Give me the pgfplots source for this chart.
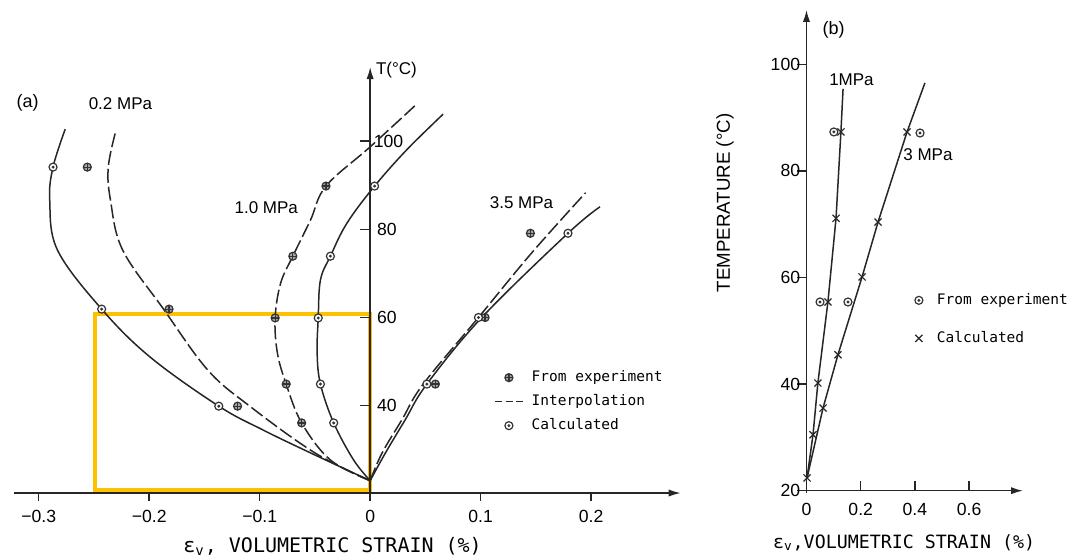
\documentclass[border=0pt]{standalone}
\usepackage{pgfplots}
\pgfplotsset{compat=1.18}
\usepackage{fontspec}
\setmainfont{Liberation Sans}
\newfontfamily\monofont{DejaVu Sans Mono}
\usetikzlibrary{arrows.meta}
\definecolor{hl}{RGB}{255,192,0}
\pgfdeclareplotmark{odot}{%
  \pgfpathcircle{\pgfpointorigin}{\pgfplotmarksize}\pgfusepathqfillstroke
  \pgfpathcircle{\pgfpointorigin}{0.2\pgfplotmarksize}\pgfusepathqstroke}
\pgfdeclareplotmark{expt}{%
  \pgfpathcircle{\pgfpointorigin}{\pgfplotmarksize}\pgfusepathqfillstroke
  \pgfpathmoveto{\pgfqpoint{-\pgfplotmarksize}{0pt}}\pgfpathlineto{\pgfqpoint{\pgfplotmarksize}{0pt}}%
  \pgfpathmoveto{\pgfqpoint{0pt}{-\pgfplotmarksize}}\pgfpathlineto{\pgfqpoint{0pt}{\pgfplotmarksize}}\pgfusepathqstroke}
\pgfplotsset{
  calc/.style={only marks, mark=odot, mark size=2pt, mark options={line width=0.6pt, fill=white, draw=black!80}},
  expt/.style={only marks, mark=expt, mark size=2pt, mark options={line width=0.6pt, fill=black!35, draw=black!80}},
  crv/.style={black!85, line width=0.75pt, smooth, tension=0.6, mark=none},
  dsh/.style={crv, dash pattern=on 7pt off 2pt},
  lin/.style={black!85, line width=0.75pt, sharp plot, mark=none},
  legend image code/.code={\draw[mark repeat=2,mark phase=2,#1] plot coordinates {(0pt,0pt) (7pt,0pt) (14pt,0pt)};},
}
\newcommand\ticka{\fontsize{8.8}{10}\selectfont}
\newcommand\labf{\fontsize{8.5}{10}\selectfont}
\begin{document}
\begin{tikzpicture}
\useasboundingbox (0,0) rectangle (536.5pt,279.5pt);
% ---------------- panel (a) ----------------
\begin{axis}[
  at={(0pt,32.55pt)}, anchor=south west,
  scale only axis, width=342.55pt, height=216.1pt,
  xmin=-0.335, xmax=0.285, ymin=20, ymax=118,
  hide axis, clip=false,
  legend style={at={(axis cs:0.1122,48.4)}, anchor=north west, draw=none, fill=none,
    inner sep=0pt, outer sep=0pt, font=\monofont\fontsize{7.25}{8}\selectfont,
    row sep=3pt, nodes={inner sep=1pt, text height=5.5pt, text depth=1.5pt},
    /tikz/every odd column/.append style={column sep=3pt}},
  legend cell align=left,
]
% highlight box
\draw[hl, line width=2pt] (axis cs:-0.249,20.9) rectangle (axis cs:0,60.8);
% axes
\draw[black!85, line width=0.7pt, -{Latex[length=6pt,width=3.6pt]}] (axis cs:-0.322,20.2) -- (axis cs:0.281,20.2);
\draw[black!85, line width=0.7pt, -{Latex[length=6pt,width=3.6pt]}] (axis cs:0,20.2) -- (axis cs:0,116.8);
\draw[black!85, line width=0.7pt] (axis cs:-0.3,20.2) -- ++(0pt,-4pt);
\draw[black!85, line width=0.7pt] (axis cs:-0.2,20.2) -- ++(0pt,-4pt);
\draw[black!85, line width=0.7pt] (axis cs:-0.1,20.2) -- ++(0pt,-4pt);
\draw[black!85, line width=0.7pt] (axis cs:0,20.2) -- ++(0pt,-4pt);
\draw[black!85, line width=0.7pt] (axis cs:0.1,20.2) -- ++(0pt,-4pt);
\draw[black!85, line width=0.7pt] (axis cs:0.2,20.2) -- ++(0pt,-4pt);
\draw[black!85, line width=0.7pt] (axis cs:0,40) -- ++(-5pt,0pt);
\draw[black!85, line width=0.7pt] (axis cs:0,60) -- ++(-5pt,0pt);
\draw[black!85, line width=0.7pt] (axis cs:0,80) -- ++(-5pt,0pt);
\draw[black!85, line width=0.7pt] (axis cs:0,100) -- ++(-5pt,0pt);
\node[font=\ticka] at (axis cs:-0.3,14.9) {−0.3};
\node[font=\ticka] at (axis cs:-0.2,14.9) {−0.2};
\node[font=\ticka] at (axis cs:-0.1,14.9) {−0.1};
\node[font=\ticka] at (axis cs:0,14.9) {0};
\node[font=\ticka] at (axis cs:0.1,14.9) {0.1};
\node[font=\ticka] at (axis cs:0.2,14.9) {0.2};
\node[font=\ticka, anchor=west, inner sep=0pt] at (axis cs:0.006,40) {40};
\node[font=\ticka, anchor=west, inner sep=0pt] at (axis cs:0.006,60) {60};
\node[font=\ticka, anchor=west, inner sep=0pt] at (axis cs:0.006,80) {80};
\node[font=\ticka, anchor=west, inner sep=0pt] at (axis cs:0.003,100) {100};
\node[font=\labf, anchor=west, inner sep=0pt] at (axis cs:0.005,116.1) {T(°C)};
\node[font=\monofont\fontsize{10}{12}\selectfont] at (axis cs:-0.034,8.0) {ε\textsubscript{v}, VOLUMETRIC STRAIN (\%)};
\node[font=\fontsize{9}{10}\selectfont] at (axis cs:-0.31,108.6) {(a)};
\node[font=\labf] at (axis cs:-0.226,108.4) {0.2 MPa};
\node[font=\labf] at (axis cs:-0.094,85) {1.0 MPa};
\node[font=\labf] at (axis cs:0.137,86) {3.5 MPa};
% curves (forget plot)
\addplot[crv, forget plot] coordinates {(0,23) (-0.054,29.3) (-0.097,34.5) (-0.137,39.9) (-0.199,51.0) (-0.243,61.9) (-0.283,75.3) (-0.290,86.6) (-0.287,94.1) (-0.276,102.7)};
\addplot[crv, forget plot] coordinates {(0,23) (-0.015,27.7) (-0.033,36.1) (-0.045,44.9) (-0.048,52) (-0.047,59.9) (-0.045,68.5) (-0.036,73.9) (-0.021,81.4) (0.004,89.8) (0.033,98) (0.066,106.1)};
\addplot[dsh, forget plot] coordinates {(0,23) (-0.036,27.7) (-0.062,36.1) (-0.076,44.9) (-0.084,52) (-0.086,59.9) (-0.081,67.8) (-0.070,73.9) (-0.054,82.1) (-0.040,89.8) (0,98.7) (0.043,108.6)};
\addplot[crv, forget plot] coordinates {(0,23) (0.0136,29.2) (0.0317,36.8) (0.0513,44.9) (0.101,60) (0.179,79.1) (0.208,85.1)};
\addplot[dsh, forget plot] coordinates {(0,23) (0.0106,29.2) (0.0287,36.8) (0.048,44.9) (0.098,60) (0.146,74.6) (0.195,88.3)};
% legend plots
\addplot[expt] coordinates {(-0.256,94.1) (-0.182,61.9) (-0.120,39.9) (-0.040,89.8) (-0.070,73.9) (-0.086,59.9) (-0.076,44.9) (-0.062,36.1) (0.145,79.1) (0.104,60) (0.059,44.9)};
\addlegendentry{From experiment}
\addplot[dsh, legend image post style={dash pattern=on 3.5pt off 1.8pt}] coordinates {(0,23) (-0.050,29.3) (-0.109,39.9) (-0.147,48.1) (-0.187,61.9) (-0.224,75.3) (-0.235,86.6) (-0.237,94.1) (-0.230,102.5)};
\addlegendentry{Interpolation}
\addplot[calc] coordinates {(-0.287,94.1) (-0.243,61.9) (-0.137,39.9) (0.004,89.8) (-0.036,73.9) (-0.047,59.9) (-0.045,44.9) (-0.033,36.1) (0.179,79.1) (0.098,60) (0.0513,44.9)};
\addlegendentry{Calculated}
\end{axis}
% ---------------- panel (b) ----------------
\begin{axis}[
  at={(403.25pt,34.15pt)}, anchor=south west,
  scale only axis, width=108.4pt, height=241.2pt,
  xmin=0, xmax=0.8, ymin=20, ymax=110.5,
  hide axis, clip=false,
  legend style={at={(axis cs:0.40,57.4)}, anchor=north west, draw=none, fill=none,
    inner sep=0pt, outer sep=0pt, font=\monofont\fontsize{7.25}{8}\selectfont,
    row sep=10pt, nodes={inner sep=1pt, text height=5.5pt, text depth=1.5pt},
    /tikz/every odd column/.append style={column sep=6pt}},
  legend cell align=left,
]
\draw[black!85, line width=0.7pt, -{Latex[length=6pt,width=3.6pt]}] (axis cs:0,20) -- (axis cs:0.799,20);
\draw[black!85, line width=0.7pt, -{Latex[length=6pt,width=3.6pt]}] (axis cs:0,19.5) -- (axis cs:0,110.2);
\draw[black!85, line width=0.7pt] (axis cs:0,20) -- ++(-5pt,0pt);
\draw[black!85, line width=0.7pt] (axis cs:0,40) -- ++(-5pt,0pt);
\draw[black!85, line width=0.7pt] (axis cs:0,60) -- ++(-5pt,0pt);
\draw[black!85, line width=0.7pt] (axis cs:0,80) -- ++(-5pt,0pt);
\draw[black!85, line width=0.7pt] (axis cs:0,100) -- ++(-5pt,0pt);
\draw[black!85, line width=0.7pt] (axis cs:0.2,20) -- ++(0pt,5pt);
\draw[black!85, line width=0.7pt] (axis cs:0.4,20) -- ++(0pt,5pt);
\draw[black!85, line width=0.7pt] (axis cs:0.6,20) -- ++(0pt,5pt);
\node[font=\ticka, anchor=east, inner sep=0.5pt] at (axis cs:-0.0185,20) {20};
\node[font=\ticka, anchor=east, inner sep=0.5pt] at (axis cs:-0.0185,40) {40};
\node[font=\ticka, anchor=east, inner sep=0.5pt] at (axis cs:-0.0185,60) {60};
\node[font=\ticka, anchor=east, inner sep=0.5pt] at (axis cs:-0.0185,80) {80};
\node[font=\ticka, anchor=east, inner sep=0.5pt] at (axis cs:-0.0185,100) {100};
\node[font=\ticka] at (axis cs:0,16.4) {0};
\node[font=\ticka] at (axis cs:0.2,16.4) {0.2};
\node[font=\ticka] at (axis cs:0.4,16.4) {0.4};
\node[font=\ticka] at (axis cs:0.6,16.4) {0.6};
\node[font=\monofont\fontsize{9.15}{11}\selectfont] at (axis cs:0.36,10.2) {ε\textsubscript{v},VOLUMETRIC STRAIN (\%)};
\node[font=\fontsize{9.35}{11}\selectfont, rotate=90] at (axis cs:-0.301,74) {TEMPERATURE (°C)};
\node[font=\fontsize{9}{10}\selectfont] at (axis cs:0.100,106.5) {(b)};
\node[font=\labf] at (axis cs:0.166,97.1) {1MPa};
\node[font=\labf] at (axis cs:0.448,83) {3 MPa};
\addplot[lin, forget plot] coordinates {(0.002,22.4) (0.024,30.5) (0.042,40.2) (0.079,55.4) (0.109,71.1) (0.127,87.3) (0.135,95.4)};
\addplot[lin, forget plot] coordinates {(0.002,22.4) (0.061,35.5) (0.116,45.5) (0.205,60.1) (0.264,70.4) (0.371,87.3) (0.437,96.5)};
\addplot[calc] coordinates {(0.050,55.4) (0.101,87.3) (0.153,55.4) (0.419,87.1)};
\addlegendentry{From experiment}
\addplot[only marks, mark=x, mark size=2.5pt, mark options={line width=0.6pt, draw=black!85}] coordinates {(0.002,22.4) (0.024,30.5) (0.042,40.2) (0.079,55.4) (0.109,71.1) (0.127,87.3) (0.061,35.5) (0.116,45.5) (0.205,60.1) (0.264,70.4) (0.371,87.3)};
\addlegendentry{Calculated}
\end{axis}
\end{tikzpicture}
\end{document}
